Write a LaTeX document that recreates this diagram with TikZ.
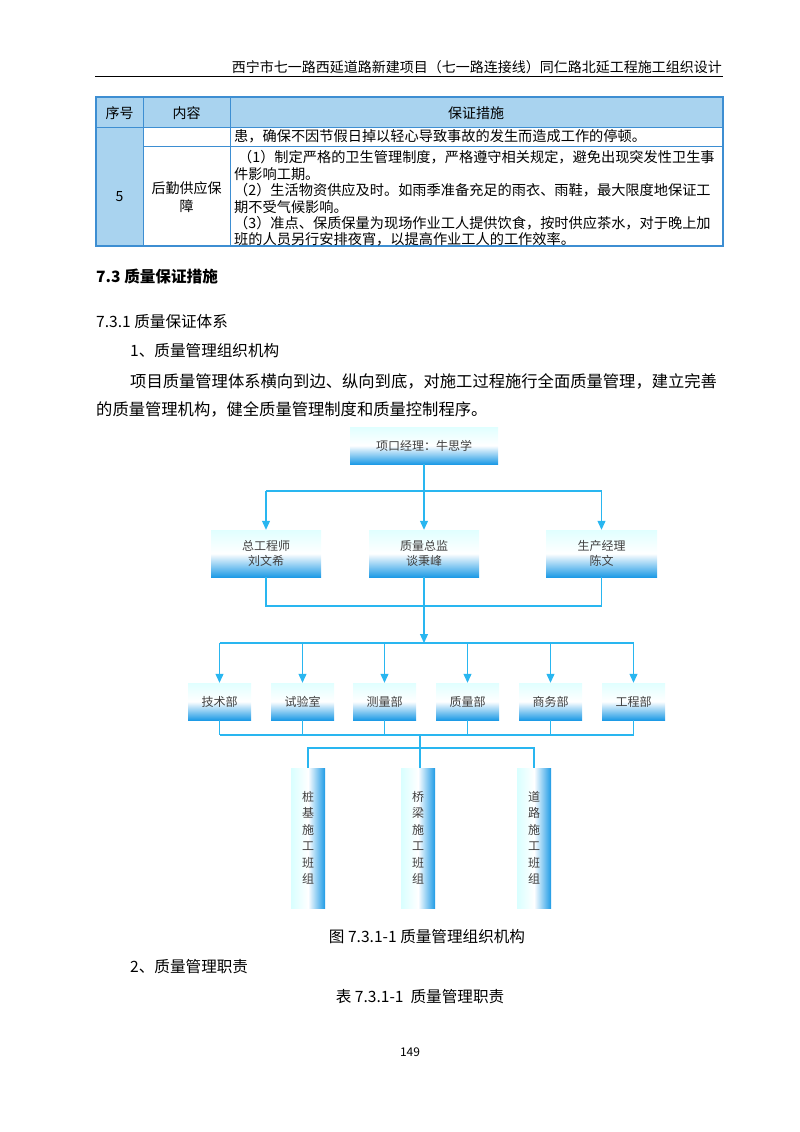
\documentclass[tikz,border=0pt]{standalone}
\usepackage{fontspec}
\setmainfont{Noto Sans CJK SC}
\usetikzlibrary{arrows.meta}
\definecolor{ln}{HTML}{29B6F0}
\definecolor{bb}{HTML}{1E9BE6}
\definecolor{tb}{HTML}{3D8ED2}
\definecolor{tf}{HTML}{A9D3EF}
\begin{document}
\begin{tikzpicture}[x=1pt,y=-1pt,
  box/.style={draw=none,top color=cyan!12,bottom color=bb,middle color=white,shading angle=0,minimum height=37,inner sep=0,align=center,font=\fontsize{12}{15}\selectfont,text=black!75},
  col/.style={draw=none,left color=cyan!15,right color=bb,middle color=white,minimum width=34,minimum height=140,inner sep=0,align=center,font=\fontsize{12}{16.5}\selectfont,text=black!75},
  con/.style={draw=ln,line width=1.1pt},
  arr/.style={con,-{Triangle[width=8pt,length=9pt]}},
  tl/.style={anchor=west,inner sep=0,font=\fontsize{14.2}{16}\selectfont},
  body/.style={anchor=west,inner sep=0,font=\fontsize{15.6}{18}\selectfont}]
\useasboundingbox (0,0) rectangle (800,1132);
% header
\node[anchor=east,inner sep=0,font=\fontsize{14}{16}\selectfont] (hd) at (722,67) {西宁市七一路西延道路新建项目（七一路连接线）同仁路北延工程施工组织设计};
\draw[line width=0.7pt] (95,76) -- (723,76);
% table
\fill[tf] (96,97) rectangle (723,127);
\fill[tf] (96,127) rectangle (143,246);
\draw[tb,line width=1.4pt] (96,97) rectangle (723,246);
\draw[tb,line width=0.8pt] (96,127) -- (723,127) (143,97) -- (143,246) (230,97) -- (230,246) (143,146) -- (723,146);
\node[font=\fontsize{14}{16}\selectfont] (t1) at (119.5,113) {序号};
\node[font=\fontsize{14}{16}\selectfont] (t2) at (186.5,113) {内容};
\node[font=\fontsize{14}{16}\selectfont] (t3) at (476,113) {保证措施};
\node[tl] (r0) at (234,136.5) {患，确保不因节假日掉以轻心导致事故的发生而造成工作的停顿。};
\node[font=\fontsize{14}{16}\selectfont] (n5) at (119.5,197) {5};
\node[align=center,font=\fontsize{14}{18}\selectfont] (c5) at (186.5,197) {后勤供应保\\障};
\node[tl] (r1) at (238,157) {（1）制定严格的卫生管理制度，严格遵守相关规定，避免出现突发性卫生事};
\node[tl] (r2) at (234,174) {件影响工期。};
\node[tl] (r3) at (234,190) {（2）生活物资供应及时。如雨季准备充足的雨衣、雨鞋，最大限度地保证工};
\node[tl] (r4) at (234,207) {期不受气候影响。};
\node[tl] (r5) at (234,223) {（3）准点、保质保量为现场作业工人提供饮食，按时供应茶水，对于晚上加};
\node[tl] (r6) at (234,239) {班的人员另行安排夜宵，以提高作业工人的工作效率。};
% text
\node[body,font=\bfseries\fontsize{15.6}{18}\selectfont] (s1) at (96,276) {7.3 质量保证措施};
\node[body] (s2) at (96,322) {7.3.1 质量保证体系};
\node[body] (s3) at (130,351) {1、质量管理组织机构};
\node[body,font=\fontsize{16.3}{18}\selectfont] (p1) at (130,381) {项目质量管理体系横向到边、纵向到底，对施工过程施行全面质量管理，建立完善};
\node[body,font=\fontsize{16.3}{18}\selectfont] (p2) at (96,409) {的质量管理机构，健全质量管理制度和质量控制程序。};
% chart
\node[box,minimum width=148] (pm) at (424,445.5) {项口经理：牛思学};
\node[box,minimum width=110,minimum height=47] (m1) at (266,553.5) {总工程师\\刘文希};
\node[box,minimum width=110,minimum height=47] (m2) at (424,553.5) {质量总监\\谈秉峰};
\node[box,minimum width=111,minimum height=47] (m3) at (601.5,553.5) {生产经理\\陈文};
\foreach \n/\x/\t in {d1/219.5/技术部,d2/302.5/试验室,d3/384.5/测量部,d4/467.5/质量部,d5/550.5/商务部,d6/633.5/工程部}
  \node[box,minimum width=63] (\n) at (\x,701.5) {\t};
\node[col] (g1) at (308,838) {桩\\基\\施\\工\\班\\组};
\node[col] (g2) at (418,838) {桥\\梁\\施\\工\\班\\组};
\node[col] (g3) at (534,838) {道\\路\\施\\工\\班\\组};
\coordinate (j1) at (424,491);
\coordinate (j2) at (424,606);
\coordinate (j3) at (424,643);
\coordinate (j4) at (420,735);
\coordinate (j5) at (420,748);
\draw[con] (pm.south) -- (j1) (m1.north|-j1) -- (m3.north|-j1);
\foreach \n in {m1,m2,m3} \draw[arr] (\n.north|-j1) -- (\n.north);
\draw[con] (m1.south) -- (m1.south|-j2) -- (m3.south|-j2) -- (m3.south) (m2.south) -- (j2);
\draw[arr] (j2) -- (j3);
\draw[con] (d1.north|-j3) -- (d6.north|-j3);
\foreach \n in {d1,d2,d3,d4,d5,d6} {
  \draw[arr] (\n.north|-j3) -- (\n.north);
  \draw[con] (\n.south) -- (\n.south|-j4);}
\draw[con] (d1.south|-j4) -- (d6.south|-j4);
\draw[con] (j4) -- (j5) (g1.north) -- (g1.north|-j5) -- (g3.north|-j5) -- (g3.north);
\draw[con] (j5) -- (j5|-g2.north);
% captions
\node[font=\fontsize{15.6}{18}\selectfont] (cap) at (427,937) {图 7.3.1-1 质量管理组织机构};
\node[body] (s4) at (130,967) {2、质量管理职责};
\node[font=\fontsize{15.6}{18}\selectfont] (cap2) at (420,997) {表 7.3.1-1\ \ 质量管理职责};
\node[font=\fontsize{12}{14}\selectfont] (pg) at (410,1052) {149};
\end{tikzpicture}
\end{document}
